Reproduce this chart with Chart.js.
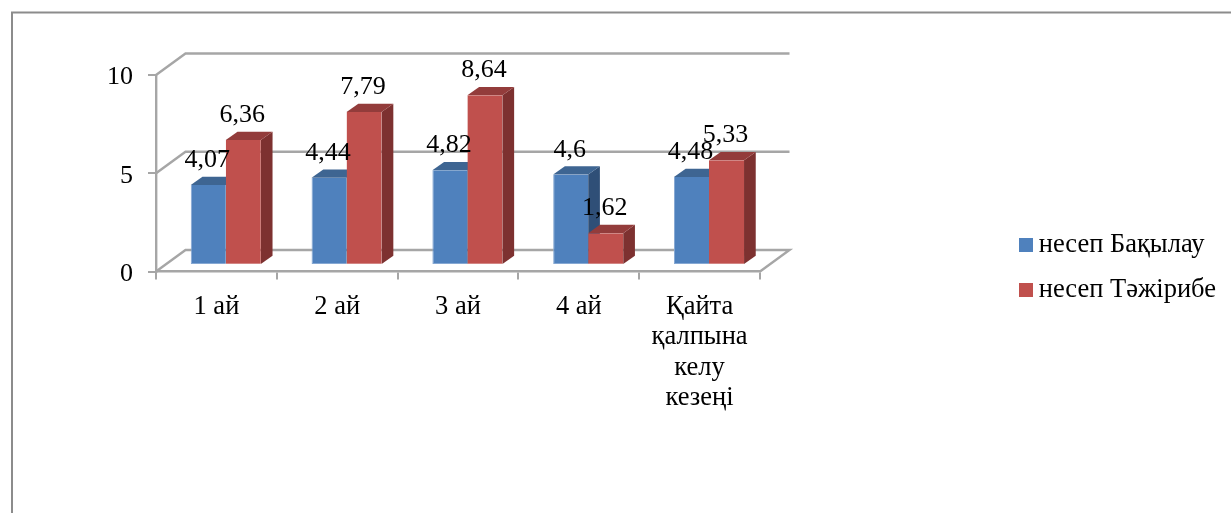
<!DOCTYPE html>
<html><head><meta charset="utf-8">
<style>html,body{margin:0;padding:0;background:#fff;overflow:hidden}canvas{display:block}</style>
<script src="https://cdn.jsdelivr.net/npm/chart.js@4"></script>
</head><body><canvas id="c" width="1231" height="513"></canvas>
<script>
const categories = ['1 ай','2 ай','3 ай','4 ай',['Қайта','қалпына','келу','кезеңі']];
const controlValues = [4.07,4.44,4.82,4.6,4.48];
const experimentValues = [6.36,7.79,8.64,1.62,5.33];
const seriesNames = ['несеп Бақылау','несеп Тәжірибе'];
const yTicks = [0,5,10];

const FONT = '"Liberation Serif","Times New Roman",serif';
const AXIS = '#a6a6a6';
const WALL = {dx:29.5, dy:21.5};     // back wall offset
const BAR  = {dx:9.4, dy:6.5};       // bar row offset inside the floor
const DEPTH= {dx:11.7, dy:8.3};      // bar depth
const faces = [{front:'#4f81bd',top:'#3e6592',side:'#2f4f77',edge:'#86a8d3'},{front:'#c0504d',top:'#933c3b',side:'#7d3130',edge:'#d38684'}];

function swatch(color){
  const s=document.createElement('canvas'); s.width=14; s.height=14;
  const g=s.getContext('2d'); g.fillStyle=color; g.fillRect(0,0,14,14); return s;
}
const swatches = faces.map(f=>swatch(f.front));

const scene = {
  id:'scene',
  beforeDraw(chart){
    const {ctx,width,height}=chart;
    ctx.save();
    ctx.fillStyle='#fff'; ctx.fillRect(0,0,width,height);
    ctx.strokeStyle='#8c8c8c'; ctx.lineWidth=2;
    ctx.beginPath(); ctx.moveTo(12,height); ctx.lineTo(12,12.5); ctx.lineTo(width,12.5); ctx.stroke();
    // back wall gridlines and slanted floor/side edges
    const {left,right}=chart.chartArea, y=chart.scales.y;
    ctx.strokeStyle=AXIS; ctx.lineWidth=2.4;
    yTicks.forEach(t=>{
      const p=y.getPixelForValue(t);
      ctx.beginPath(); ctx.moveTo(left,p); ctx.lineTo(left+WALL.dx,p-WALL.dy); ctx.lineTo(right+WALL.dx,p-WALL.dy);
      if(t===0) ctx.lineTo(right,p);
      ctx.stroke();
    });
    ctx.restore();
  },
  afterLayout(chart){
    const l=chart.legend; if(!l) return;
    l.left=1007; l.right=l.left+l.width; l.top=213; l.bottom=l.top+l.height;
  },
  beforeDatasetsDraw(chart){
    const {ctx}=chart;
    ctx.save();
    ctx.translate(BAR.dx,-BAR.dy);
    chart.data.datasets.forEach((d,i)=>{
      chart.getDatasetMeta(i).data.forEach(el=>{
        const x0=el.x-el.width/2,x1=el.x+el.width/2,t=el.y,b=el.base;
        ctx.fillStyle=faces[i].side;
        ctx.beginPath(); ctx.moveTo(x1,t); ctx.lineTo(x1+DEPTH.dx,t-DEPTH.dy); ctx.lineTo(x1+DEPTH.dx,b-DEPTH.dy); ctx.lineTo(x1,b); ctx.closePath(); ctx.fill();
        ctx.fillStyle=faces[i].top;
        ctx.beginPath(); ctx.moveTo(x0,t); ctx.lineTo(x0+DEPTH.dx,t-DEPTH.dy); ctx.lineTo(x1+DEPTH.dx,t-DEPTH.dy); ctx.lineTo(x1,t); ctx.closePath(); ctx.fill();
      });
    });
  },
  afterDatasetsDraw(chart){
    const {ctx}=chart;
    ctx.restore();
    ctx.save();
    ctx.font='26px '+FONT; ctx.fillStyle='#000'; ctx.textAlign='center'; ctx.textBaseline='alphabetic';
    chart.data.datasets.forEach((d,i)=>{
      chart.getDatasetMeta(i).data.forEach((el,j)=>{
        ctx.fillText(String(d.data[j]).replace('.',','), el.x+BAR.dx-1, el.y-BAR.dy-18);
      });
    });
    ctx.restore();
  }
};

new Chart(document.getElementById('c'),{
  type:'bar',
  data:{labels:categories,datasets:[
    {label:seriesNames[0],data:controlValues,backgroundColor:faces[0].front,borderColor:faces[0].edge,borderSkipped:false,borderWidth:{left:1,bottom:1,top:0,right:0}},
    {label:seriesNames[1],data:experimentValues,backgroundColor:faces[1].front,borderColor:faces[1].edge,borderSkipped:false,borderWidth:{left:0,bottom:1,top:0,right:0}}
  ]},
  options:{
    responsive:false,animation:false,
    layout:{padding:{left:0,top:75,right:471,bottom:0}},
    datasets:{bar:{categoryPercentage:0.58,barPercentage:1}},
    plugins:{
      tooltip:{enabled:false},
      legend:{position:'chartArea',align:'start',
        labels:{color:'#000',font:{family:FONT,size:26.5},usePointStyle:true,pointStyleWidth:0.01,padding:18.5,
          generateLabels:c=>c.data.datasets.map((d,i)=>({text:d.label,fillStyle:faces[i].front,strokeStyle:faces[i].front,lineWidth:0,pointStyle:swatches[i],datasetIndex:i,hidden:false}))}}
    },
    scales:{
      x:{offset:true,
        afterFit(s){s.height=241.5;},
        grid:{drawOnChartArea:false,offset:true,color:AXIS,lineWidth:2,tickLength:8},
        border:{color:AXIS,width:2.4},
        ticks:{color:'#000',font:{family:FONT,size:26.5,lineHeight:1.15},maxRotation:0,autoSkip:false,padding:12}},
      y:{min:0,max:10,
        afterFit(s){s.width=156;},
        afterBuildTicks(s){s.ticks=yTicks.map(v=>({value:v}));},
        grid:{drawOnChartArea:false,color:AXIS,lineWidth:2,tickLength:8},
        border:{color:AXIS,width:2.4},
        ticks:{color:'#000',font:{family:FONT,size:26},padding:15,labelOffset:2.5}}
    }
  },
  plugins:[scene]
});
</script></body></html>
